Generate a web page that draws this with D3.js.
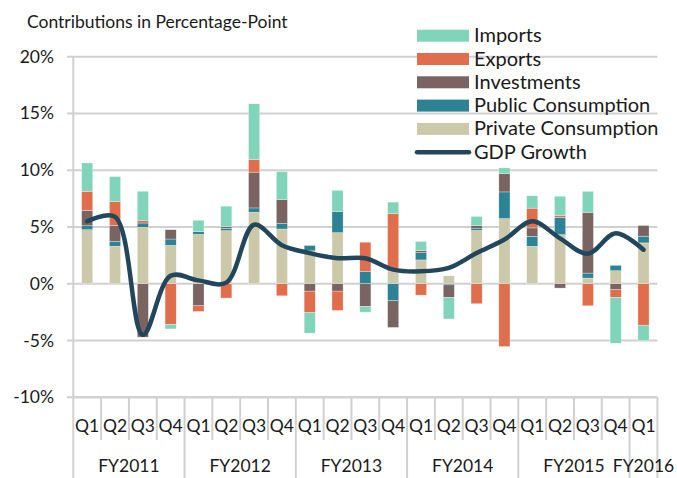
<!DOCTYPE html>
<html>
<head>
<meta charset="utf-8">
<script src="https://cdn.jsdelivr.net/npm/d3@7"></script>
<style>
  body { margin: 0; background: #fff; }
  text { font-family: Lato, "Open Sans", sans-serif; fill: #1a1a1a; }
</style>
</head>
<body>
<script>
// quarters and fiscal years on the x axis
var quarters = ["Q1","Q2","Q3","Q4","Q1","Q2","Q3","Q4","Q1","Q2","Q3","Q4",
                "Q1","Q2","Q3","Q4","Q1","Q2","Q3","Q4","Q1"];
var years = ["FY2011","FY2012","FY2013","FY2014","FY2015","FY2016"];
var yearSize = [4, 4, 4, 4, 4, 1];

// contributions, percentage points
var privateCons = [4.76,3.3,4.97,3.38,4.35,4.68,6.3,4.82,2.9,4.5,0,1.09,2.1,0.7,4.7,5.74,3.3,4.32,0.5,1.15,3.6];
var publicCons  = [0.35,0.44,0.38,0.56,0.24,0.2,0.38,0.5,0.47,1.85,1.1,-1.5,0.65,-0.1,0.15,2.35,0.88,1.53,0.44,0.47,0.59];
var investments = [1.35,1.4,-4.7,0.82,-1.94,0.15,3.15,2.09,-0.65,-0.65,-2.0,-2.35,0.18,-1.1,0.26,1.62,0.74,-0.38,5.35,-0.53,0.94];
var exportsC    = [1.68,2.1,0.24,-3.6,-0.5,-1.26,1.12,-1.06,-1.9,-1.7,2.56,5.1,-1.0,0,-1.76,-5.53,1.74,0.18,-1.94,-0.68,-3.65];
var importsC    = [2.5,2.2,2.56,-0.38,1.0,1.8,4.9,2.47,-1.8,1.88,-0.5,1.0,0.8,-1.9,0.82,0.5,1.09,1.68,1.85,-4.03,-1.35];
var gdp         = [5.5,5.9,-4.5,0.7,0.3,0.1,5.2,3.4,2.7,2.25,2.25,1.25,1.1,1.4,2.7,3.9,5.5,4.0,2.65,4.45,3.0];

var yTicks = [-10, -5, 0, 5, 10, 15, 20];

var keys = ["private", "public", "investments", "exports", "imports"];
var names = {private: "Private Consumption", public: "Public Consumption",
             investments: "Investments", exports: "Exports", imports: "Imports"};
var colors = {private: "#cbc9a9", public: "#2d8296", investments: "#7a6461",
              exports: "#e06e4c", imports: "#80d4b9"};

var rows = quarters.map(function (q, i) {
    return {i: i, private: privateCons[i], public: publicCons[i], investments: investments[i],
            exports: exportsC[i], imports: importsC[i], gdp: gdp[i]};
});

var width = 677, height = 478;
var left = 73.3, right = 657.4;

var svg = d3.select("body").append("svg")
    .attr("width", width)
    .attr("height", height);

var x = d3.scaleBand()
    .domain(d3.range(quarters.length))
    .range([left, right])
    .paddingInner(0.6)
    .paddingOuter(0.3);

var y = d3.scaleLinear().domain([-10, 20]).range([397.3, 56.7]);

// title
svg.append("text")
    .attr("x", 27).attr("y", 28)
    .style("font-size", "17.5px")
    .text("Contributions in Percentage-Point");

// gridlines + y labels
svg.append("g").selectAll("line")
    .data(yTicks)
    .enter().append("line")
    .attr("x1", 67).attr("x2", right)
    .attr("y1", function (d) { return y(d); })
    .attr("y2", function (d) { return y(d); })
    .style("stroke", "#d0d0d0")
    .style("stroke-width", 2);

svg.append("g").selectAll("text")
    .data(yTicks)
    .enter().append("text")
    .attr("x", 54)
    .attr("y", function (d) { return y(d) + 6; })
    .style("text-anchor", "end")
    .style("font-size", "17.5px")
    .text(function (d) { return d + "%"; });

svg.append("line")
    .attr("x1", left).attr("x2", left)
    .attr("y1", y(20)).attr("y2", y(-10))
    .style("stroke", "#d0d0d0").style("stroke-width", 2);

// stacked bars
var series = d3.stack().keys(keys).offset(d3.stackOffsetDiverging)(rows);

svg.append("g").selectAll("g")
    .data(series)
    .enter().append("g")
    .style("fill", function (d) { return colors[d.key]; })
    .selectAll("rect")
    .data(function (d) { return d; })
    .enter().append("rect")
    .attr("x", function (d) { return x(d.data.i); })
    .attr("width", x.bandwidth())
    .attr("y", function (d) { return y(Math.max(d[0], d[1])); })
    .attr("height", function (d) { return Math.abs(y(d[0]) - y(d[1])); })
    .style("stroke", "#fff")
    .style("stroke-width", 0.5)
    .style("stroke-opacity", 0.6);

// GDP line
var line = d3.line()
    .x(function (d) { return x(d.i) + x.bandwidth() / 2; })
    .y(function (d) { return y(d.gdp); })
    .curve(d3.curveCatmullRom.alpha(0.5));

svg.append("path")
    .datum(rows)
    .attr("d", line)
    .style("fill", "none")
    .style("stroke", "#22475c")
    .style("stroke-width", 4.5)
    .style("stroke-linecap", "round");

// x axis: quarter and year labels with dividers
var step = x.step();
var axisY = y(-10);
var yearBounds = [0];
yearSize.forEach(function (n, k) { yearBounds.push(yearBounds[k] + n); });

svg.append("g").selectAll("line")
    .data(d3.range(quarters.length + 1))
    .enter().append("line")
    .attr("x1", function (k) { return left + k * step; })
    .attr("x2", function (k) { return left + k * step; })
    .attr("y1", axisY)
    .attr("y2", function (k) { return yearBounds.indexOf(k) >= 0 ? height : 440; })
    .style("stroke", "#d0d0d0")
    .style("stroke-width", 2);

svg.append("g").selectAll("text")
    .data(quarters)
    .enter().append("text")
    .attr("x", function (q, i) { return x(i) + x.bandwidth() / 2; })
    .attr("y", 432)
    .style("text-anchor", "middle")
    .style("font-size", "17.5px")
    .text(function (q) { return q; });

svg.append("g").selectAll("text")
    .data(years)
    .enter().append("text")
    .attr("x", function (yr, k) { return left + (yearBounds[k] + yearBounds[k + 1]) / 2 * step; })
    .attr("y", 472)
    .style("text-anchor", "middle")
    .style("font-size", "17.5px")
    .text(function (yr) { return yr; });

svg.append("line")
    .attr("x1", left).attr("x2", right)
    .attr("y1", axisY).attr("y2", axisY)
    .style("stroke", "#d0d0d0").style("stroke-width", 2);

// legend
var legendKeys = ["imports", "exports", "investments", "public", "private", "gdp"];
var legend = svg.append("g").selectAll("g")
    .data(legendKeys)
    .enter().append("g")
    .attr("transform", function (d, i) { return "translate(417," + (35.7 + i * 23.3) + ")"; });

legend.filter(function (d) { return d !== "gdp"; })
    .append("rect")
    .attr("x", 0).attr("y", -6)
    .attr("width", 52).attr("height", 12)
    .style("fill", function (d) { return colors[d]; });

legend.filter(function (d) { return d === "gdp"; })
    .append("line")
    .attr("x1", 0).attr("x2", 52)
    .style("stroke", "#22475c")
    .style("stroke-width", 4.5)
    .style("stroke-linecap", "round");

legend.append("text")
    .attr("x", 57)
    .attr("y", 6.5)
    .style("font-size", "20px")
    .text(function (d) { return d === "gdp" ? "GDP Growth" : names[d]; });
</script>
</body>
</html>
